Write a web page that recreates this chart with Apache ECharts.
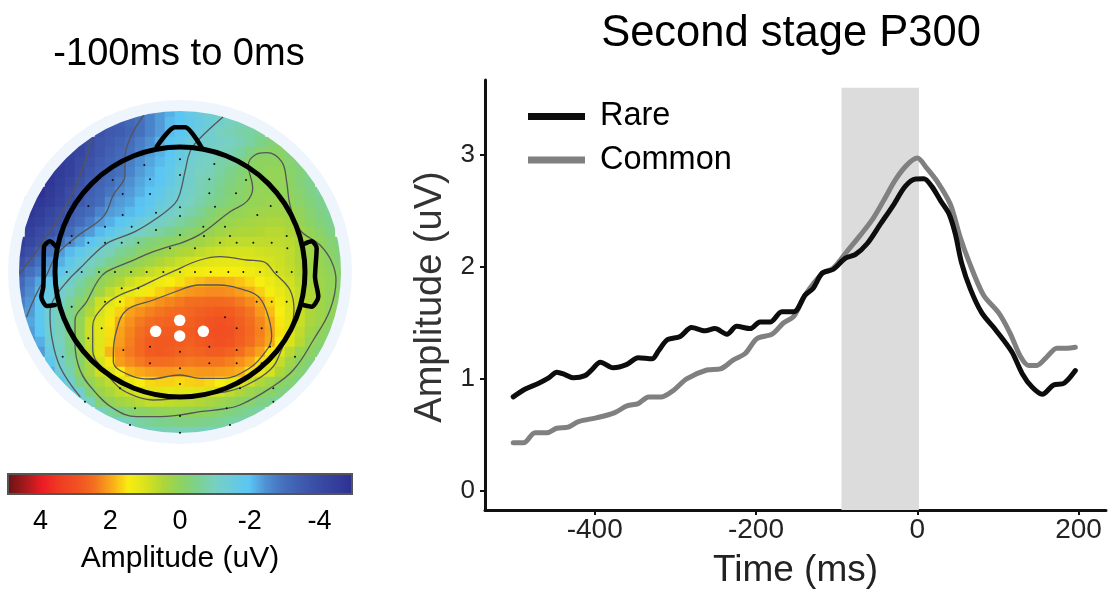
<!DOCTYPE html>
<html><head><meta charset="utf-8">
<style>html,body{margin:0;padding:0;background:#fff}#c{width:1113px;height:590px}</style>
<script src="https://cdn.jsdelivr.net/npm/echarts@6/dist/echarts.min.js"></script>
</head><body><div id="c"></div>
<script>
const FONT = '"Liberation Sans", Arial, sans-serif';
// ---- Line chart data: [time ms, amplitude uV]
const rareSeries = [[-501,.84],[-486,.91],[-470,.96],[-457,1.01],[-447,1.06],[-437,1.04],[-426,1.01],[-412,1.03],[-404,1.08],[-393,1.15],[-377,1.10],[-360,1.13],[-346,1.19],[-329,1.18],[-321,1.25],[-310,1.35],[-294,1.38],[-280,1.46],[-263,1.43],[-251,1.45],[-236,1.40],[-224,1.47],[-207,1.45],[-195,1.51],[-182,1.51],[-168,1.60],[-153,1.60],[-139,1.75],[-129,1.81],[-118,1.945],[-104,1.98],[-89,2.08],[-77,2.11],[-62,2.21],[-46,2.38],[-29,2.56],[-15,2.72],[-2,2.786],[8,2.788],[18,2.72],[29,2.59],[39,2.48],[47,2.30],[55,2.035],[66,1.80],[80,1.59],[97,1.44],[117,1.245],[130,1.05],[142,.93],[155,.864],[169,.947],[182,.962],[196,1.075]];
const commonSeries = [[-501,.43],[-488,.43],[-474,.52],[-459,.52],[-447,.56],[-433,.57],[-420,.62],[-397,.655],[-375,.70],[-360,.76],[-346,.78],[-333,.84],[-317,.84],[-302,.90],[-286,1.0],[-261,1.08],[-244,1.09],[-228,1.17],[-213,1.23],[-199,1.36],[-180,1.40],[-166,1.50],[-153,1.56],[-139,1.75],[-118,1.94],[-104,1.99],[-87,2.14],[-71,2.28],[-56,2.42],[-42,2.59],[-27,2.78],[-13,2.91],[0,2.973],[12,2.88],[26,2.75],[41,2.56],[53,2.27],[64,2.05],[82,1.75],[101,1.59],[115,1.41],[128,1.20],[138,1.12],[148,1.12],[161,1.20],[173,1.275],[186,1.275],[196,1.284]];
const timeTicks = [-400,-200,0,200];
const ampTicks = [0,1,2,3];
const bandRange = [-94,2];
// ---- Scalp map amplitude rows (uV), rows run top to bottom, every row centred on the head midline
const scalpRows = [
[-3.0,-2.7,-2.4,-2.2,-2.0,-1.7,-1.5,-1.3,-1.2],
[-3.5,-3.4,-3.2,-3.0,-2.7,-2.4,-2.1,-2.0,-1.8,-1.6,-1.4,-1.2,-1.0,-0.9,-0.8],
[-3.8,-3.6,-3.5,-3.3,-3.0,-2.7,-2.4,-2.1,-2.0,-1.8,-1.5,-1.3,-1.0,-0.9,-0.8,-0.7,-0.6],
[-4.2,-4,-3.7,-3.5,-3.3,-3.1,-2.8,-2.5,-2.2,-2,-1.8,-1.5,-1.3,-1.2,-1.1,-1,-0.9,-0.7,-0.5,-0.3,-0.2],
[-4.4,-4.2,-3.9,-3.7,-3.4,-3.2,-3,-2.7,-2.4,-2.2,-2,-1.7,-1.4,-1.2,-1.1,-1,-0.9,-0.7,-0.4,-0.2,-0.1,-0.1,-0.3],
[-4.6,-4.4,-4.1,-3.8,-3.5,-3.3,-3.1,-2.8,-2.5,-2.3,-2.1,-1.9,-1.6,-1.3,-1.1,-1,-0.8,-0.7,-0.5,-0.1,0,0,0,-0.2,-0.4],
[-4.8,-4.6,-4.4,-4,-3.7,-3.4,-3.2,-3,-2.7,-2.4,-2.2,-2,-1.8,-1.4,-1.2,-1,-0.9,-0.7,-0.5,-0.3,-0.1,0,0.1,0.1,-0.1,-0.3,-0.5],
[-4.8,-4.5,-4.2,-3.8,-3.5,-3.3,-3.1,-2.8,-2.5,-2.3,-2.1,-2,-1.7,-1.4,-1.2,-0.9,-0.8,-0.6,-0.4,-0.2,-0.05,0.05,0.1,0.1,-0.05,-0.3,-0.5],
[-5,-4.7,-4.4,-4,-3.7,-3.4,-3.2,-2.9,-2.6,-2.4,-2.2,-2,-1.8,-1.5,-1.3,-1.1,-0.9,-0.7,-0.5,-0.3,-0.15,0,0.1,0.1,0.1,0,-0.2,-0.4,-0.6],
[-5,-4.8,-4.6,-4.3,-3.9,-3.6,-3.3,-3.1,-2.6,-2.4,-2.3,-2.05,-1.9,-1.6,-1.4,-1.2,-1,-0.8,-0.6,-0.4,-0.2,-0.1,0.1,0.15,0.2,0.2,0.05,-0.1,-0.3,-0.5,-0.7],
[-4.8,-4.6,-4.3,-4,-3.6,-3.3,-3.1,-2.7,-2.4,-2.3,-2.1,-2,-1.7,-1.4,-1.2,-1,-0.8,-0.6,-0.3,-0.1,0,0.1,0.2,0.25,0.3,0.3,0.2,0.05,-0.2,-0.4,-0.6],
[-4.6,-4.4,-4.1,-3.8,-3.4,-3.1,-2.8,-2.4,-2.2,-2,-1.8,-1.5,-1.3,-1.1,-0.9,-0.7,-0.5,-0.3,-0.1,0.1,0.2,0.3,0.35,0.4,0.45,0.45,0.35,0.15,-0.1,-0.3,-0.5],
[-4.4,-4.1,-3.8,-3.5,-3.1,-2.7,-2.4,-2.1,-1.9,-1.6,-1.35,-1.1,-0.9,-0.7,-0.5,-0.3,-0.15,0,0.15,0.3,0.4,0.5,0.5,0.55,0.6,0.6,0.5,0.3,0.1,-0.1,-0.4],
[-4.5,-4.2,-3.9,-3.4,-3,-2.6,-2.3,-2,-1.7,-1.3,-1,-0.8,-0.5,-0.3,-0.15,-0.05,0.05,0.2,0.3,0.45,0.6,0.7,0.7,0.7,0.7,0.7,0.7,0.65,0.45,0.25,0.05,-0.2,-0.4],
[-4.2,-3.9,-3.4,-2.9,-2.4,-2.1,-1.8,-1.5,-1.2,-0.9,-0.6,-0.4,-0.15,0,0.15,0.3,0.45,0.55,0.7,0.8,0.9,0.95,0.95,0.95,0.9,0.85,0.8,0.7,0.5,0.3,0.1,-0.1,-0.3],
[-3.9,-3.5,-3,-2.5,-2.2,-1.8,-1.45,-1.1,-0.85,-0.55,-0.3,-0.05,0.15,0.3,0.5,0.65,0.8,0.95,1.05,1.15,1.2,1.2,1.2,1.15,1.05,0.95,0.85,0.7,0.5,0.3,0.15,-0.05,-0.25],
[-3.5,-3,-2.7,-2.3,-1.9,-1.5,-1.25,-0.8,-0.35,0.05,0.2,0.35,0.55,0.75,0.9,1.05,1.2,1.35,1.4,1.45,1.5,1.5,1.45,1.35,1.25,1.1,0.9,0.75,0.55,0.35,0.2,0.05,-0.1],
[-3.2,-2.7,-2.3,-1.85,-1.45,-1.2,-0.75,-0.35,0.05,0.3,0.55,0.85,1.05,1.2,1.35,1.5,1.6,1.75,1.85,1.95,1.95,1.9,1.8,1.65,1.5,1.3,1.1,0.9,0.65,0.4,0.25,0.1,-0.1],
[-3,-2.6,-2.15,-1.7,-1.3,-0.9,-0.5,-0.15,0.3,0.7,1,1.2,1.35,1.55,1.7,1.85,2.05,2.15,2.2,2.25,2.25,2.2,2.1,1.95,1.7,1.45,1.25,1,0.75,0.5,0.3,0.1,-0.05],
[-2.8,-2.45,-1.95,-1.5,-1.1,-0.65,-0.2,0.25,0.85,1.15,1.4,1.7,1.9,2.05,2.2,2.3,2.4,2.5,2.55,2.6,2.6,2.55,2.4,2.25,2,1.7,1.4,1.05,0.8,0.55,0.3,0.1,-0.1],
[-2.7,-2.4,-1.9,-1.3,-0.95,-0.5,0,0.55,0.95,1.3,1.7,2.05,2.2,2.35,2.45,2.55,2.6,2.65,2.75,2.8,2.85,2.8,2.65,2.45,2.15,1.85,1.5,1.1,0.8,0.5,0.3,0.05,-0.15],
[-2.3,-1.9,-1.3,-0.9,-0.45,0.1,0.8,1.1,1.55,1.95,2.2,2.4,2.55,2.65,2.7,2.7,2.75,2.85,2.95,3,2.95,2.75,2.55,2.3,2,1.55,1.15,0.8,0.45,0.25,0],
[-2.4,-2,-1.3,-0.9,-0.4,0.15,0.85,1.15,1.6,2.05,2.3,2.5,2.7,2.8,2.8,2.8,2.8,2.9,3,3.05,3,2.8,2.6,2.35,2.05,1.6,1.1,0.7,0.3,0.05,-0.2],
[-2.6,-2.2,-1.4,-1,-0.45,0.1,0.75,1.1,1.65,2.1,2.35,2.6,2.8,2.85,2.85,2.8,2.75,2.85,2.95,3,2.95,2.75,2.55,2.3,2,1.5,1,0.6,0.15,-0.1,-0.3],
[-2.4,-1.6,-1.1,-0.5,0.05,0.7,1.15,1.9,2.2,2.4,2.6,2.8,2.85,2.8,2.7,2.65,2.7,2.8,2.8,2.7,2.5,2.3,2.05,1.55,1.05,0.6,0.2,-0.05,-0.3],
[-1.9,-1.2,-0.65,-0.1,0.45,0.95,1.55,2.1,2.25,2.4,2.55,2.55,2.5,2.45,2.4,2.45,2.45,2.45,2.35,2.2,2,1.6,1.15,0.75,0.3,-0.05,-0.3],
[-2.2,-1.4,-0.85,-0.05,0.4,0.85,1.1,1.5,1.9,2,2.1,2.15,2.15,2.1,2.1,2.15,2.15,2.1,2.05,1.95,1.6,1.25,0.95,0.5,0.1,-0.2,-0.5],
[-1.9,-1.3,-0.4,0.1,0.45,0.7,0.95,1.25,1.5,1.65,1.7,1.7,1.65,1.7,1.75,1.65,1.5,1.3,1.1,0.85,0.55,0.25,0,-0.2,-0.5],
[-1.7,-1.2,-0.3,0.2,0.45,0.7,0.85,1,1.1,1.15,1.2,1.15,1.15,1.1,1,0.9,0.7,0.5,0.25,0.05,-0.1,-0.3,-0.5],
[-1.4,-1,-0.2,0.05,0.3,0.45,0.6,0.75,0.75,0.7,0.65,0.6,0.55,0.4,0.25,0.1,-0.05,-0.2,-0.4,-0.5,-0.7],
[-1.1,-0.7,-0.4,-0.2,-0.1,0,0.05,0.1,0.1,0.05,0,-0.05,-0.2,-0.35,-0.5,-0.6,-0.75],
[-1.2,-1.1,-0.9,-0.7,-0.6,-0.5,-0.45,-0.4,-0.4,-0.45,-0.5,-0.6,-0.7,-0.8,-0.9],
[-1.1,-1,-0.95,-0.9,-0.9,-0.9,-0.95,-1,-1.1]
];
const scalpCols = Array.from({length:33},(_,i)=>String(i));
const colorStops = ['#2e3192','#33409b','#3a4ca4','#405cb0','#4570bd','#4f90d2','#5bc6f3','#6bcbdc','#78d0c0','#7cd18c','#8ed35f','#aed638','#d9e31c','#f8ed10','#f9a81a','#f36f20','#f15022','#ef3c23','#ed1c24','#a51a1d','#6b1214'];
const colorbarTicks = [4,2,0,-2,-4];
// ---- Scalp outlines and contour lines, in map units
const contours = [
[[275,175],[255,245],[220,335],[150,455],[60,580]],
[[430,107],[390,175],[375,235],[375,285],[340,345],[310,410],[230,470],[170,525],[140,585],[110,640],[80,710]],
[[668,112],[595,180],[570,215],[555,275],[540,340],[525,370],[470,415],[405,455],[330,485],[290,515],[240,565],[205,600],[160,660],[150,700],[155,770],[180,860],[240,950]],
[[540,490],[605,460],[690,395],[740,365],[758,325],[745,255],[765,225],[800,218],[845,245],[860,305],[870,375],[900,450],[960,495],[995,545],[1008,600],[990,690],[940,780],[880,870],[810,925],[720,975],[670,987],[600,995],[540,1005],[470,1010],[410,1010],[340,985],[280,930],[240,870],[225,790],[225,720],[260,665],[295,600],[320,575],[390,545],[460,515],[540,490]],
[[540,565],[600,540],[660,530],[740,540],[790,545],[825,580],[870,630],[882,690],[840,820],[810,870],[740,915],[680,935],[640,940],[460,960],[410,950],[360,925],[320,880],[278,810],[278,740],[310,680],[360,645],[410,625],[495,585],[540,565]],
[[540,630],[600,615],[650,615],[740,632],[780,655],[805,710],[815,770],[785,830],[740,870],[670,895],[600,895],[540,885],[450,897],[400,890],[340,845],[340,820],[350,750],[380,690],[460,660],[540,630]]
];
const nose = [[470,200],[525,142],[555,142],[605,203]];
const earLeft = [[168,500],[150,484],[132,500],[130,620],[124,650],[140,678],[165,675]];
const earRight = [[912,492],[935,484],[950,505],[945,590],[955,650],[935,680],[910,675]];
const headCentre = [[540,576]];
const sigSensors = [[467,754],[539,721],[539,768],[610,754]];
const sensors = [[540,238],[433,255],[643,252],[338,300],[450,298],[628,298],[738,300],[368,342],[450,342],[540,285],[628,340],[708,340],[265,378],[540,382],[812,378],[645,380],[368,405],[468,398],[540,408],[772,405],[315,440],[395,440],[468,450],[610,440],[675,440],[215,468],[540,465],[612,468],[690,468],[860,468],[210,488],[265,488],[315,488],[365,488],[415,488],[510,505],[585,505],[660,488],[710,488],[760,488],[815,488],[862,505],[200,576],[245,576],[297,576],[345,576],[393,576],[440,576],[490,576],[540,576],[585,576],[632,576],[685,576],[730,576],[780,576],[830,576],[875,576],[365,625],[415,625],[315,665],[360,665],[770,665],[815,665],[860,665],[215,680],[675,712],[305,745],[710,745],[785,745],[265,775],[450,800],[370,810],[628,800],[710,810],[810,800],[540,815],[188,830],[885,830],[450,850],[628,850],[710,850],[785,850],[540,865],[540,912],[360,925],[720,925],[820,925],[255,965],[820,965],[405,985],[680,985],[540,1008],[390,1035],[690,1035],[540,1058]];

const heatData = [];
scalpRows.forEach((row,r)=>{const s=(33-row.length)/2;row.forEach((v,i)=>heatData.push([s+i,r,v]));});

const hiddenVal = (extra)=>Object.assign({type:'value',show:false},extra);
const mapX = {min:24,max:1056}, mapY = {min:60,max:1092,inverse:true};
const outline = (d,w,col,z)=>({type:'line',xAxisIndex:2,yAxisIndex:2,data:d,showSymbol:false,silent:true,z:z,clip:false,lineStyle:{color:col,width:w,cap:'round',join:'round'},animation:false});

const series = [
 {name:'Common',type:'line',xAxisIndex:0,yAxisIndex:0,data:commonSeries,smooth:0.3,showSymbol:false,z:3,
  lineStyle:{color:'#808080',width:5,cap:'round',join:'round'},itemStyle:{color:'#808080'},
  markArea:{silent:true,itemStyle:{color:'#dcdcdc'},data:[[{xAxis:bandRange[0],yAxis:3.6},{xAxis:bandRange[1],yAxis:-0.17}]]}},
 {name:'Rare',type:'line',xAxisIndex:0,yAxisIndex:0,data:rareSeries,smooth:0.3,showSymbol:false,z:4,
  lineStyle:{color:'#0d0d0d',width:5,cap:'round',join:'round'},itemStyle:{color:'#0d0d0d'}},
 {type:'heatmap',xAxisIndex:1,yAxisIndex:1,data:heatData,z:1,silent:true,emphasis:{disabled:true},progressive:0,animation:false},
 {type:'scatter',xAxisIndex:2,yAxisIndex:2,data:headCentre,symbol:'circle',symbolSize:356,clip:false,z:2,silent:true,animation:false,itemStyle:{color:'rgba(0,0,0,0)',borderColor:'#ffffff',borderWidth:12,opacity:1}},
 {type:'scatter',xAxisIndex:2,yAxisIndex:2,data:headCentre,symbol:'circle',symbolSize:333,clip:false,z:3,silent:true,animation:false,itemStyle:{color:'rgba(0,0,0,0)',borderColor:'#eff5fc',borderWidth:11,opacity:1}}
];
contours.forEach(c=>{const s=outline(c,1.3,'#555',4);s.smooth=0.4;series.push(s);});
series.push({type:'scatter',xAxisIndex:2,yAxisIndex:2,data:sensors,symbolSize:2,z:5,silent:true,animation:false,itemStyle:{color:'#111',opacity:1}});
series.push({type:'scatter',xAxisIndex:2,yAxisIndex:2,data:headCentre,symbol:'circle',symbolSize:250,clip:false,z:6,silent:true,animation:false,itemStyle:{color:'rgba(0,0,0,0)',borderColor:'#000',borderWidth:5,opacity:1}});
[nose,earLeft,earRight].forEach(d=>{const s=outline(d,4.5,'#000',6);s.smooth=0.25;series.push(s);});
series.push({type:'scatter',xAxisIndex:2,yAxisIndex:2,data:sigSensors,symbolSize:11.5,z:7,silent:true,animation:false,itemStyle:{color:'#fff',opacity:1}});

const option = {
 animation:false,
 backgroundColor:'#fff',
 textStyle:{fontFamily:FONT},
 title:[
  {text:'Second stage P300',left:786,top:7,textAlign:'center',textStyle:{fontSize:43.5,fontWeight:'normal',color:'#000',fontFamily:FONT}},
  {text:'-100ms to 0ms',left:174,top:31,textAlign:'center',textStyle:{fontSize:38,fontWeight:'normal',color:'#000',fontFamily:FONT}}
 ],
 legend:{data:['Rare','Common'],orient:'vertical',left:528,top:100,padding:0,icon:'rect',itemWidth:57,itemHeight:7,itemGap:10.5,selectedMode:false,textStyle:{fontSize:32.5,color:'#000',fontFamily:FONT,padding:[0,0,0,10]}},
 grid:[
  {left:485,top:80,width:621,height:430,outerBoundsMode:'none'},
  {left:15,top:107,width:330,height:330,outerBoundsMode:'none'},
  {left:8,top:100,width:344,height:344,outerBoundsMode:'none'},
  {left:8,top:474,width:344,height:20,show:true,borderColor:'#555',borderWidth:2,backgroundColor:'transparent',z:10,outerBoundsMode:'none'}
 ],
 xAxis:[
  {type:'value',gridIndex:0,min:-536,max:234,splitLine:{show:false},name:'Time (ms)',nameLocation:'middle',nameGap:42,nameTextStyle:{fontSize:37,color:'#222',fontFamily:FONT},
   axisLine:{show:true,onZero:false,lineStyle:{color:'#111',width:3}},axisTick:{show:true,length:5,customValues:timeTicks,lineStyle:{color:'#111',width:2}},axisLabel:{customValues:timeTicks,fontSize:28,color:'#222',margin:6,fontFamily:FONT}},
  {type:'category',gridIndex:1,data:scalpCols,show:false},
  hiddenVal(Object.assign({gridIndex:2,splitLine:{show:false}},mapX)),
  {type:'value',gridIndex:3,min:-4.93,max:4.93,inverse:true,splitLine:{show:false},name:'Amplitude (uV)',nameLocation:'middle',nameGap:50,nameTextStyle:{fontSize:30,color:'#000',fontFamily:FONT},
   axisLine:{show:false},axisTick:{show:true,inside:true,length:4,customValues:colorbarTicks,lineStyle:{color:'#444',width:1}},axisLabel:{customValues:colorbarTicks,fontSize:27,color:'#000',margin:14,fontFamily:FONT}}
 ],
 yAxis:[
  {type:'value',gridIndex:0,min:-0.17,max:3.67,splitLine:{show:false},name:'Amplitude (uV)',nameLocation:'middle',nameGap:33,nameTextStyle:{fontSize:38,color:'#333',fontFamily:FONT,padding:[0,4,0,0]},
   axisLine:{show:true,onZero:false,lineStyle:{color:'#111',width:3}},axisTick:{show:true,length:5,customValues:ampTicks,lineStyle:{color:'#111',width:2}},axisLabel:{customValues:ampTicks,fontSize:26,color:'#222',margin:10,fontFamily:FONT}},
  {type:'category',gridIndex:1,inverse:true,data:scalpRows.map((_,i)=>String(i)),show:false},
  hiddenVal(Object.assign({gridIndex:2,splitLine:{show:false}},mapY)),
  {type:'value',gridIndex:3,show:false}
 ],
 visualMap:{type:'continuous',seriesIndex:2,dimension:2,min:-5,max:5,orient:'horizontal',inverse:true,left:8,top:474,padding:0,itemWidth:20,itemHeight:344,calculable:false,hoverLink:false,realtime:false,text:null,showLabel:false,inRange:{color:colorStops}},
 series:series
};
const chart = echarts.init(document.getElementById('c'),null,{renderer:'canvas'});
chart.setOption(option);
</script></body></html>
